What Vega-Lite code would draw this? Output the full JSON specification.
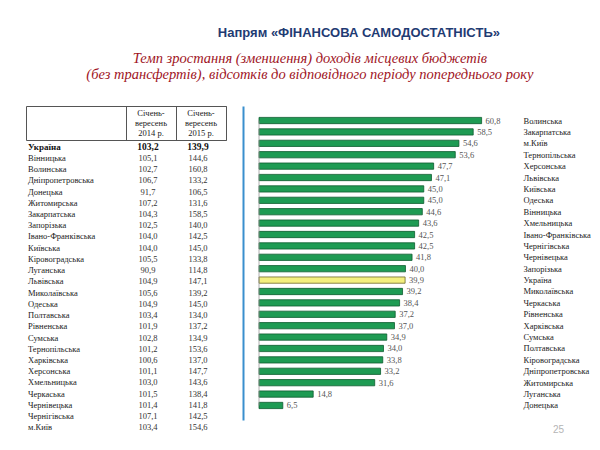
{
  "$schema": "https://vega.github.io/schema/vega-lite/v6.json",
  "padding": {"left": 25, "top": 26, "right": 5, "bottom": 5},
  "background": "white",
  "config": {
    "view": {"stroke": null},
    "locale": {"number": {"decimal": ",", "thousands": " ", "grouping": [3], "currency": ["", ""]}},
    "text": {"font": "Liberation Serif"}
  },
  "title": {
    "text": "Напрям «ФІНАНСОВА  САМОДОСТАТНІСТЬ»",
    "anchor": "middle",
    "dx": 51,
    "font": "Liberation Sans",
    "fontSize": 13,
    "fontWeight": "bold",
    "color": "#1f3b73",
    "offset": 11
  },
  "datasets": {
    "regions": [
      {"region": "Україна", "s2014": 103.2, "s2015": 139.9, "growth": 39.9},
      {"region": "Вінницька", "s2014": 105.1, "s2015": 144.6, "growth": 44.6},
      {"region": "Волинська", "s2014": 102.7, "s2015": 160.8, "growth": 60.8},
      {"region": "Дніпропетровська", "s2014": 106.7, "s2015": 133.2, "growth": 33.2},
      {"region": "Донецька", "s2014": 91.7, "s2015": 106.5, "growth": 6.5},
      {"region": "Житомирська", "s2014": 107.2, "s2015": 131.6, "growth": 31.6},
      {"region": "Закарпатська", "s2014": 104.3, "s2015": 158.5, "growth": 58.5},
      {"region": "Запорізька", "s2014": 102.5, "s2015": 140.0, "growth": 40.0},
      {"region": "Івано-Франківська", "s2014": 104.0, "s2015": 142.5, "growth": 42.5},
      {"region": "Київська", "s2014": 104.0, "s2015": 145.0, "growth": 45.0},
      {"region": "Кіровоградська", "s2014": 105.5, "s2015": 133.8, "growth": 33.8},
      {"region": "Луганська", "s2014": 90.9, "s2015": 114.8, "growth": 14.8},
      {"region": "Львівська", "s2014": 104.9, "s2015": 147.1, "growth": 47.1},
      {"region": "Миколаївська", "s2014": 105.6, "s2015": 139.2, "growth": 39.2},
      {"region": "Одеська", "s2014": 104.9, "s2015": 145.0, "growth": 45.0},
      {"region": "Полтавська", "s2014": 103.4, "s2015": 134.0, "growth": 34.0},
      {"region": "Рівненська", "s2014": 101.9, "s2015": 137.2, "growth": 37.2},
      {"region": "Сумська", "s2014": 102.8, "s2015": 134.9, "growth": 34.9},
      {"region": "Тернопільська", "s2014": 101.2, "s2015": 153.6, "growth": 53.6},
      {"region": "Харківська", "s2014": 100.6, "s2015": 137.0, "growth": 37.0},
      {"region": "Херсонська", "s2014": 101.1, "s2015": 147.7, "growth": 47.7},
      {"region": "Хмельницька", "s2014": 103.0, "s2015": 143.6, "growth": 43.6},
      {"region": "Черкаська", "s2014": 101.5, "s2015": 138.4, "growth": 38.4},
      {"region": "Чернівецька", "s2014": 101.4, "s2015": 141.8, "growth": 41.8},
      {"region": "Чернігівська", "s2014": 107.1, "s2015": 142.5, "growth": 42.5},
      {"region": "м.Київ", "s2014": 103.4, "s2015": 154.6, "growth": 54.6}
    ]
  },
  "vconcat": [
    {
      "title": {
        "text": ["Темп зростання (зменшення) доходів місцевих бюджетів", "(без трансфертів), відсотків до відповідного періоду попереднього року"],
        "anchor": "middle",
        "dx": 2,
        "font": "Liberation Serif",
        "fontStyle": "italic",
        "fontWeight": "normal",
        "fontSize": 14.5,
        "lineHeight": 16.5,
        "color": "#a0141e",
        "offset": 23
      },
      "hconcat": [
        {
          "vconcat": [
            {
              "width": 200,
              "height": 34,
              "view": {"stroke": "#555555", "strokeWidth": 1},
              "data": {"values": [
                {"col": "s2014", "label": "Січень-\nвересень\n2014 р."},
                {"col": "s2015", "label": "Січень-\nвересень\n2015 р."}
              ]},
              "mark": {"type": "text", "lineBreak": "\n", "fontSize": 8.5, "lineHeight": 10, "baseline": "middle", "dy": -10, "color": "#222222"},
              "encoding": {
                "x": {
                  "field": "col", "type": "nominal",
                  "scale": {"domain": ["n1", "n2", "s2014", "s2015"], "paddingInner": 0, "paddingOuter": 0},
                  "axis": {"orient": "top", "values": ["s2014", "s2015"], "tickBand": "extent", "grid": true, "gridColor": "#555555", "gridOpacity": 1, "labels": false, "ticks": false, "domain": false, "title": null}
                },
                "text": {"field": "label"}
              }
            },
            {
              "width": 200,
              "height": 292,
              "data": {"name": "regions"},
              "layer": [
                {
                  "transform": [{"filter": "datum.region !== 'Україна'"}],
                  "mark": {"type": "text", "align": "left", "dx": -23, "fontSize": 8.5, "baseline": "middle", "color": "#222222"},
                  "encoding": {
                    "x": {"datum": "n1", "scale": {"domain": ["n1", "n2", "s2014", "s2015"], "paddingInner": 0, "paddingOuter": 0}, "axis": null},
                    "y": {"field": "region", "type": "nominal", "sort": null, "scale": {"domain": ["Україна", "Вінницька", "Волинська", "Дніпропетровська", "Донецька", "Житомирська", "Закарпатська", "Запорізька", "Івано-Франківська", "Київська", "Кіровоградська", "Луганська", "Львівська", "Миколаївська", "Одеська", "Полтавська", "Рівненська", "Сумська", "Тернопільська", "Харківська", "Херсонська", "Хмельницька", "Черкаська", "Чернівецька", "Чернігівська", "м.Київ"], "paddingInner": 0, "paddingOuter": 0}, "axis": null},
                    "text": {"field": "region"}
                  }
                },
                {
                  "transform": [{"filter": "datum.region === 'Україна'"}],
                  "mark": {"type": "text", "align": "left", "dx": -23, "fontSize": 9, "fontWeight": "bold", "baseline": "middle", "color": "#111111"},
                  "encoding": {
                    "x": {"datum": "n1", "axis": null},
                    "y": {"field": "region", "type": "nominal", "sort": null, "axis": null},
                    "text": {"field": "region"}
                  }
                },
                {
                  "transform": [
                    {"filter": "datum.region !== 'Україна'"},
                    {"fold": ["s2014", "s2015"], "as": ["col", "val"]}
                  ],
                  "mark": {"type": "text", "align": "center", "dx": -3, "fontSize": 8.5, "baseline": "middle", "color": "#333333"},
                  "encoding": {
                    "x": {"field": "col", "type": "nominal", "axis": null},
                    "y": {"field": "region", "type": "nominal", "sort": null, "axis": null},
                    "text": {"field": "val", "type": "quantitative", "format": ".1f"}
                  }
                },
                {
                  "transform": [
                    {"filter": "datum.region === 'Україна'"},
                    {"fold": ["s2014", "s2015"], "as": ["col", "val"]}
                  ],
                  "mark": {"type": "text", "align": "center", "dx": -3, "fontSize": 9.5, "fontWeight": "bold", "baseline": "middle", "color": "#111111"},
                  "encoding": {
                    "x": {"field": "col", "type": "nominal", "axis": null},
                    "y": {"field": "region", "type": "nominal", "sort": null, "axis": null},
                    "text": {"field": "val", "type": "quantitative", "format": ".1f"}
                  }
                }
              ]
            }
          ],
          "spacing": 0
        },
        {
          "width": 238,
          "height": 314,
          "data": {"name": "regions"},
          "layer": [
            {
              "mark": {"type": "bar", "strokeWidth": 0.8},
              "encoding": {
                "y": {
                  "field": "region", "type": "nominal",
                  "sort": ["Волинська", "Закарпатська", "м.Київ", "Тернопільська", "Херсонська", "Львівська", "Київська", "Одеська", "Вінницька", "Хмельницька", "Івано-Франківська", "Чернігівська", "Чернівецька", "Запорізька", "Україна", "Миколаївська", "Черкаська", "Рівненська", "Харківська", "Сумська", "Полтавська", "Кіровоградська", "Дніпропетровська", "Житомирська", "Луганська", "Донецька"],
                  "scale": {"paddingInner": 0.45, "paddingOuter": 1, "align": 0.5},
                  "axis": {"orient": "left", "offset": 16, "domainColor": "#3a8fce", "domainWidth": 2, "labels": false, "ticks": false, "grid": false, "title": null}
                },
                "x": {
                  "field": "growth", "type": "quantitative",
                  "scale": {"domain": [0, 65], "nice": false},
                  "axis": {"orient": "bottom", "labels": false, "ticks": false, "domain": false, "grid": false, "title": "25", "titleX": 299, "titleY": 9, "titleAlign": "center", "titleBaseline": "middle", "titleColor": "#b5b5b5", "titleFontSize": 10, "titleFontWeight": "normal", "titleFont": "Liberation Sans"}
                },
                "fill": {"condition": {"test": "datum.region === 'Україна'", "value": "#f3ef7e"}, "value": "#1e9b53"},
                "stroke": {"condition": {"test": "datum.region === 'Україна'", "value": "#6d6a2a"}, "value": "#0e5c2f"}
              }
            },
            {
              "mark": {"type": "text", "align": "left", "dx": 4, "fontSize": 8.5, "baseline": "middle", "color": "#555555"},
              "encoding": {
                "y": {
                  "field": "region", "type": "nominal",
                  "sort": ["Волинська", "Закарпатська", "м.Київ", "Тернопільська", "Херсонська", "Львівська", "Київська", "Одеська", "Вінницька", "Хмельницька", "Івано-Франківська", "Чернігівська", "Чернівецька", "Запорізька", "Україна", "Миколаївська", "Черкаська", "Рівненська", "Харківська", "Сумська", "Полтавська", "Кіровоградська", "Дніпропетровська", "Житомирська", "Луганська", "Донецька"],
                  "axis": {"orient": "right", "labelAlign": "left", "labelPadding": 26, "ticks": false, "domain": false, "grid": false, "title": null, "labelFont": "Liberation Serif", "labelFontSize": 8.5, "labelColor": "#222222"}
                },
                "x": {"field": "growth", "type": "quantitative"},
                "text": {"field": "growth", "type": "quantitative", "format": ".1f"}
              }
            },
            {
              "data": {"values": [{}]},
              "mark": {"type": "rule", "color": "#999999", "strokeWidth": 0.8},
              "encoding": {
                "x": {"datum": 0},
                "y": {"datum": "Волинська", "axis": null},
                "y2": {"datum": "Донецька"}
              }
            }
          ],
          "resolve": {"axis": {"y": "independent"}}
        }
      ],
      "spacing": 16
    }
  ]
}
